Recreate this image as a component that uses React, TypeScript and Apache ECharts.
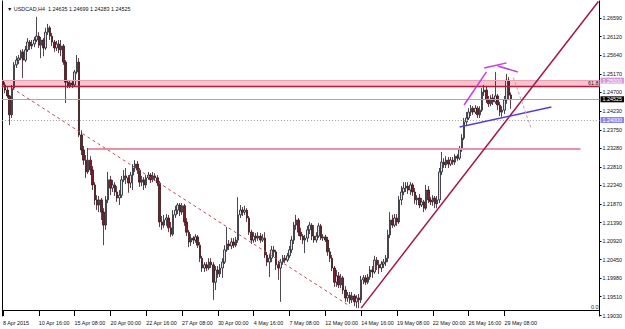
import React, { useEffect, useRef } from "react";
import * as echarts from "echarts";

const FONT = "Liberation Sans, Arial, sans-serif";
const TITLE = "▼ USDCAD,H4  1.24635 1.24699 1.24283 1.24525";

const yTickLabels = [1.2659, 1.2612, 1.2564, 1.2517, 1.247, 1.2423, 1.2375, 1.2328, 1.2281, 1.2234, 1.2187, 1.2139, 1.2092, 1.2045, 1.1998, 1.1951, 1.1903];

const opens = [
  1.2501,1.2489,1.2476,1.2461,1.2413,1.2481,1.2540,1.2552,1.2557,1.2573,
  1.2552,1.2578,1.2598,1.2588,1.2593,1.2603,1.2613,1.2590,1.2603,1.2583,
  1.2623,1.2634,1.2613,1.2598,1.2583,1.2593,1.2578,1.2588,1.2547,1.2496,
  1.2486,1.2494,1.2489,1.2522,1.2547,1.2362,1.2324,1.2298,1.2268,1.2298,
  1.2273,1.2235,1.2197,1.2184,1.2197,1.2166,1.2133,1.2197,1.2248,1.2227,
  1.2235,1.2217,1.2202,1.2209,1.2248,1.2258,1.2253,1.2240,1.2260,1.2278,
  1.2288,1.2273,1.2242,1.2248,1.2235,1.2253,1.2260,1.2248,1.2258,1.2253,
  1.2240,1.2141,1.2133,1.2146,1.2151,1.2126,1.2110,1.2159,1.2171,1.2184,
  1.2166,1.2182,1.2141,1.2115,1.2090,1.2100,1.2095,1.2103,1.2082,1.2049,
  1.2024,1.2032,1.2024,1.2039,1.2032,1.1988,1.2019,1.2009,1.2024,1.2039,
  1.2070,1.2085,1.2080,1.2090,1.2082,1.2095,1.2159,1.2171,1.2166,1.2171,
  1.2151,1.2115,1.2095,1.2105,1.2100,1.2105,1.2095,1.2100,1.2057,1.2039,
  1.2049,1.2070,1.2065,1.2032,1.2024,1.2039,1.2049,1.2044,1.2055,1.2070,
  1.2095,1.2133,1.2146,1.2115,1.2105,1.2095,1.2100,1.2121,1.2133,1.2105,
  1.2095,1.2105,1.2131,1.2100,1.2103,1.2095,1.2065,1.2049,1.2024,1.1988,
  1.2004,1.1981,1.1999,1.1968,1.1948,1.1955,1.1943,1.1953,1.1938,1.1948,
  1.1943,1.1994,1.1999,1.1988,1.2001,1.2019,1.2014,1.2044,1.2032,1.2024,
  1.2034,1.2039,1.2049,1.2108,1.2146,1.2133,1.2151,1.2141,1.2197,1.2217,
  1.2227,1.2232,1.2222,1.2235,1.2217,1.2197,1.2202,1.2184,1.2192,1.2176,
  1.2222,1.2197,1.2192,1.2202,1.2187,1.2197,1.2268,1.2293,1.2286,1.2298,
  1.2288,1.2298,1.2293,1.2308,1.2303,1.2324,1.2354,1.2395,1.2405,1.2420,
  1.2430,1.2420,1.2430,1.2413,1.2425,1.2471,1.2476,1.2451,1.2441,1.2456,
  1.2446,1.2461,1.2438,1.2420,1.2425,1.2451,1.2501,1.24635,
];

const closes = [
  1.2489,1.2476,1.2461,1.2413,1.2481,1.2540,1.2552,1.2557,1.2573,1.2552,
  1.2578,1.2598,1.2588,1.2593,1.2603,1.2613,1.2590,1.2603,1.2583,1.2623,
  1.2634,1.2613,1.2598,1.2583,1.2593,1.2578,1.2588,1.2547,1.2496,1.2486,
  1.2494,1.2489,1.2522,1.2547,1.2362,1.2324,1.2298,1.2268,1.2298,1.2273,
  1.2235,1.2197,1.2184,1.2197,1.2166,1.2133,1.2197,1.2248,1.2227,1.2235,
  1.2217,1.2202,1.2209,1.2248,1.2258,1.2253,1.2240,1.2260,1.2278,1.2288,
  1.2273,1.2242,1.2248,1.2235,1.2253,1.2260,1.2248,1.2258,1.2253,1.2240,
  1.2141,1.2133,1.2146,1.2151,1.2126,1.2110,1.2159,1.2171,1.2184,1.2166,
  1.2182,1.2141,1.2115,1.2090,1.2100,1.2095,1.2103,1.2082,1.2049,1.2024,
  1.2032,1.2024,1.2039,1.2032,1.1988,1.2019,1.2009,1.2024,1.2039,1.2070,
  1.2085,1.2080,1.2090,1.2082,1.2095,1.2159,1.2171,1.2166,1.2171,1.2151,
  1.2115,1.2095,1.2105,1.2100,1.2105,1.2095,1.2100,1.2057,1.2039,1.2049,
  1.2070,1.2065,1.2032,1.2024,1.2039,1.2049,1.2044,1.2055,1.2070,1.2095,
  1.2133,1.2146,1.2115,1.2105,1.2095,1.2100,1.2121,1.2133,1.2105,1.2095,
  1.2105,1.2131,1.2100,1.2103,1.2095,1.2065,1.2049,1.2024,1.1988,1.2004,
  1.1981,1.1999,1.1968,1.1948,1.1955,1.1943,1.1953,1.1938,1.1948,1.1943,
  1.1994,1.1999,1.1988,1.2001,1.2019,1.2014,1.2044,1.2032,1.2024,1.2034,
  1.2039,1.2049,1.2108,1.2146,1.2133,1.2151,1.2141,1.2197,1.2217,1.2227,
  1.2232,1.2222,1.2235,1.2217,1.2197,1.2202,1.2184,1.2192,1.2176,1.2222,
  1.2197,1.2192,1.2202,1.2187,1.2197,1.2268,1.2293,1.2286,1.2298,1.2288,
  1.2298,1.2293,1.2308,1.2303,1.2324,1.2354,1.2395,1.2405,1.2420,1.2430,
  1.2420,1.2430,1.2413,1.2425,1.2471,1.2476,1.2451,1.2441,1.2456,1.2446,
  1.2461,1.2438,1.2420,1.2425,1.2451,1.2501,1.2463,1.24525,
];

const lows = [
  1.2484,1.2468,1.2456,1.2387,1.2405,1.2476,1.2532,1.2542,1.2552,1.2507,
  1.2547,1.2573,1.2578,1.2580,1.2585,1.2598,1.2583,1.2557,1.2562,1.2578,
  1.2616,1.2603,1.2588,1.2573,1.2575,1.2570,1.2562,1.2540,1.2443,1.2481,
  1.2481,1.2481,1.2484,1.2517,1.2357,1.2311,1.2286,1.2253,1.2263,1.2260,
  1.2222,1.2184,1.2171,1.2166,1.2146,1.2082,1.2121,1.2189,1.2209,1.2217,
  1.2207,1.2192,1.2184,1.2202,1.2242,1.2237,1.2215,1.2227,1.2222,1.2268,
  1.2263,1.2230,1.2232,1.2222,1.2227,1.2248,1.2240,1.2242,1.2245,1.2232,
  1.2128,1.2121,1.2126,1.2131,1.2115,1.2103,1.2105,1.2151,1.2161,1.2156,
  1.2159,1.2131,1.2105,1.2077,1.2080,1.2085,1.2088,1.2075,1.2039,1.2014,
  1.2014,1.2016,1.2019,1.2024,1.1943,1.1968,1.1999,1.2001,1.1999,1.2034,
  1.2065,1.2070,1.2072,1.2075,1.2077,1.2088,1.2151,1.2156,1.2159,1.2141,
  1.2108,1.2085,1.2088,1.2090,1.2093,1.2088,1.2090,1.2049,1.2029,1.2001,
  1.2039,1.2052,1.2019,1.1994,1.1938,1.2032,1.2037,1.2039,1.2049,1.2062,
  1.2085,1.2121,1.2105,1.2095,1.2085,1.2062,1.2090,1.2110,1.2095,1.2088,
  1.2088,1.2100,1.2095,1.2093,1.2090,1.2055,1.2039,1.2016,1.1976,1.1976,
  1.1973,1.1973,1.1958,1.1938,1.1938,1.1933,1.1935,1.1927,1.1922,1.1922,
  1.1935,1.1983,1.1981,1.1983,1.1994,1.1999,1.2009,1.2019,1.2009,1.2014,
  1.2024,1.2029,1.2039,1.2100,1.2126,1.2128,1.2131,1.2136,1.2184,1.2209,
  1.2217,1.2212,1.2209,1.2207,1.2187,1.2184,1.2176,1.2179,1.2166,1.2171,
  1.2189,1.2184,1.2182,1.2176,1.2176,1.2189,1.2260,1.2278,1.2278,1.2278,
  1.2283,1.2286,1.2286,1.2296,1.2298,1.2319,1.2349,1.2387,1.2400,1.2410,
  1.2413,1.2415,1.2405,1.2405,1.2420,1.2461,1.2443,1.2433,1.2435,1.2438,
  1.2441,1.2425,1.2410,1.2408,1.2415,1.2441,1.2451,1.24283,
];

const highs = [
  1.2507,1.2496,1.2486,1.2463,1.2489,1.2547,1.2562,1.2565,1.2578,1.2580,
  1.2588,1.2608,1.2603,1.2603,1.2611,1.2662,1.2623,1.2611,1.2608,1.2634,
  1.2644,1.2639,1.2621,1.2603,1.2601,1.2603,1.2603,1.2593,1.2552,1.2501,
  1.2501,1.2499,1.2527,1.2565,1.2557,1.2374,1.2334,1.2311,1.2329,1.2308,
  1.2283,1.2242,1.2209,1.2207,1.2202,1.2176,1.2207,1.2268,1.2258,1.2248,
  1.2242,1.2232,1.2222,1.2258,1.2273,1.2278,1.2260,1.2268,1.2288,1.2298,
  1.2296,1.2278,1.2258,1.2255,1.2260,1.2268,1.2265,1.2268,1.2265,1.2260,
  1.2245,1.2156,1.2159,1.2161,1.2159,1.2141,1.2171,1.2182,1.2189,1.2189,
  1.2189,1.2187,1.2151,1.2121,1.2110,1.2105,1.2110,1.2108,1.2090,1.2055,
  1.2039,1.2039,1.2049,1.2049,1.2039,1.2029,1.2029,1.2034,1.2049,1.2082,
  1.2128,1.2095,1.2100,1.2100,1.2103,1.2204,1.2184,1.2179,1.2182,1.2176,
  1.2156,1.2121,1.2115,1.2113,1.2115,1.2113,1.2110,1.2115,1.2065,1.2060,
  1.2080,1.2080,1.2070,1.2042,1.2047,1.2057,1.2057,1.2062,1.2080,1.2105,
  1.2141,1.2159,1.2151,1.2126,1.2110,1.2108,1.2131,1.2141,1.2138,1.2133,
  1.2115,1.2138,1.2136,1.2110,1.2108,1.2103,1.2075,1.2057,1.2029,1.2019,
  1.2014,1.2009,1.2004,1.1978,1.1963,1.1963,1.1963,1.1958,1.1955,1.1958,
  1.2004,1.2006,1.2006,1.2009,1.2029,1.2029,1.2055,1.2052,1.2044,1.2042,
  1.2047,1.2057,1.2121,1.2166,1.2159,1.2161,1.2161,1.2207,1.2232,1.2242,
  1.2242,1.2242,1.2242,1.2240,1.2227,1.2209,1.2212,1.2202,1.2197,1.2235,
  1.2232,1.2204,1.2209,1.2207,1.2207,1.2278,1.2319,1.2303,1.2308,1.2306,
  1.2306,1.2306,1.2313,1.2313,1.2334,1.2364,1.2405,1.2420,1.2430,1.2438,
  1.2435,1.2438,1.2435,1.2435,1.2481,1.2489,1.2486,1.2461,1.2463,1.2466,
  1.2522,1.2466,1.2446,1.2435,1.2461,1.2517,1.2509,1.24699,
];

// horizontal levels
const bandTop = 1.25;
const bandBottom = 1.2483;
const fib618 = 1.2485;
const fib0 = 1.1917;
const currentPrice = 1.24525;
const alertLevel = 1.24;
const resistance = 1.2327;

// category layout: H4 bars from 8 Apr 2015 00:00, weekends skipped
const BAR_COUNT = 267;
const MONTHS = ["Jan", "Feb", "Mar", "Apr", "May", "Jun", "Jul", "Aug", "Sep", "Oct", "Nov", "Dec"];
function buildCategories(): string[] {
  const out: string[] = [];
  let t = Date.UTC(2015, 3, 8, 0, 0);
  while (out.length < BAR_COUNT) {
    const d = new Date(t);
    const wd = d.getUTCDay();
    if (wd !== 0 && wd !== 6) {
      const hh = String(d.getUTCHours()).padStart(2, "0");
      out.push(out.length === 0 ? "8 Apr 2015" : `${d.getUTCDate()} ${MONTHS[d.getUTCMonth()]} ${hh}:00`);
    }
    t += 4 * 3600 * 1000;
  }
  return out;
}
const categories = buildCategories();

const showTick = (i: number) => i % 16 === 0 && i < opens.length;

export default function App() {
  const ref = useRef<HTMLDivElement>(null);
  useEffect(() => {
    if (!ref.current) return;
    const chart = echarts.init(ref.current, null, { renderer: "svg" });
    const data = opens.map((o, i) => [o, closes[i], lows[i], highs[i]]);
    const boxLabel = (text: string, bg: string) => ({
      show: true,
      position: "end",
      formatter: text,
      backgroundColor: bg,
      color: "#fff",
      padding: [1, 2, 0, 2],
      fontSize: 5.4,
      fontFamily: FONT,
      distance: 1,
    });
    const seg = (a: number[], b: number[], color: string, width: number, type: any = "solid") => [
      { coord: a, lineStyle: { color, width, type }, label: { show: false } },
      { coord: b },
    ];
    chart.setOption({
      animation: false,
      backgroundColor: "#fff",
      title: {
        text: TITLE,
        left: 2,
        top: 1,
        textStyle: { fontSize: 5.4, fontWeight: "normal", color: "#111", fontFamily: FONT },
      },
      grid: { left: 0, right: 24, top: 1, bottom: 13, containLabel: false },
      xAxis: {
        type: "category",
        data: categories,
        boundaryGap: true,
        axisLine: { show: false },
        axisTick: { show: true, inside: true, length: 5, alignWithLabel: true, interval: (i: number) => showTick(i), lineStyle: { color: "#000" } },
        axisLabel: {
          interval: (i: number) => showTick(i),
          align: "left",
          margin: 4,
          fontSize: 5.4,
          color: "#111",
          fontFamily: FONT,
        },
        splitLine: { show: false },
      },
      yAxis: [
        {
          type: "value",
          position: "right",
          min: 1.19021,
          max: 1.27022,
          scale: true,
          axisLine: { show: true, lineStyle: { color: "#000", width: 1 } },
          axisTick: { show: true, length: 2, customValues: yTickLabels, lineStyle: { color: "#000" } },
          axisLabel: {
            customValues: yTickLabels,
            formatter: (v: number) => v.toFixed(5),
            fontSize: 5.4,
            color: "#111",
            margin: 3,
            fontFamily: FONT,
          },
          splitLine: { show: false },
        },
        {
          type: "value",
          position: "left",
          min: 0,
          max: 1,
          axisLine: { show: true, lineStyle: { color: "#000", width: 1 } },
          axisTick: { show: false },
          axisLabel: { show: false },
          splitLine: { show: false },
        },
      ],
      series: [
        {
          type: "candlestick",
          data,
          barWidth: 2,
          itemStyle: {
            color: "#dde2ea",
            color0: "#7a1e2c",
            borderColor: "#1a1a24",
            borderColor0: "#3a1018",
            borderWidth: 0.8,
          },
          markArea: {
            silent: true,
            itemStyle: { color: "#f7c3cf" },
            data: [[{ yAxis: bandTop }, { yAxis: bandBottom }]],
          },
          markLine: {
            silent: true,
            precision: 5,
            symbol: ["none", "none"],
            animation: false,
            data: [
              { yAxis: bandTop, lineStyle: { color: "#eaa2b4", width: 1, type: "solid" }, label: boxLabel("1.25000", "#d59ad8") },
              {
                yAxis: fib618,
                lineStyle: { color: "#b0203c", width: 1.4, type: "solid" },
                label: { show: true, position: "insideEndTop", formatter: "61.8", fontSize: 5.4, color: "#222", distance: 1, fontFamily: FONT },
              },
              { yAxis: currentPrice, lineStyle: { color: "#a8a8a8", width: 1, type: "solid" }, label: boxLabel("1.24525", "#000") },
              { yAxis: alertLevel, lineStyle: { color: "#a0a0a0", width: 1, type: [1, 2] }, label: boxLabel("1.24000", "#8a86ee") },
              {
                yAxis: fib0,
                lineStyle: { color: "#000", width: 1, type: "solid" },
                label: { show: true, position: "insideEndTop", formatter: "0.0", fontSize: 5.4, color: "#222", distance: 1, fontFamily: FONT },
              },
              seg([38, resistance], [258, resistance], "#e891aa", 2),
              seg([4, 1.2481], [155, 1.1927], "#c0485a", 1, [3, 3]),
              seg([160, 1.1922], [266, 1.2701], "#a3184a", 1.5),
              seg([204, 1.2382], [245, 1.2433], "#5b3cd2", 1.5),
              seg([206, 1.2438], [216, 1.2522], "#c23fe0", 1.5),
              seg([215, 1.2532], [225, 1.2545], "#c23fe0", 1.5),
              seg([221, 1.2537], [230, 1.2522], "#c23fe0", 1.5),
              seg([228, 1.2508], [236, 1.2378], "#c8a0b0", 1, [3, 2]),
            ],
          },
        },
      ],
    });
    return () => chart.dispose();
  }, []);
  return (
    <div
      ref={ref}
      style={{ position: "absolute", left: 0, top: 0, width: 625, height: 329, background: "#fff" }}
    />
  );
}
